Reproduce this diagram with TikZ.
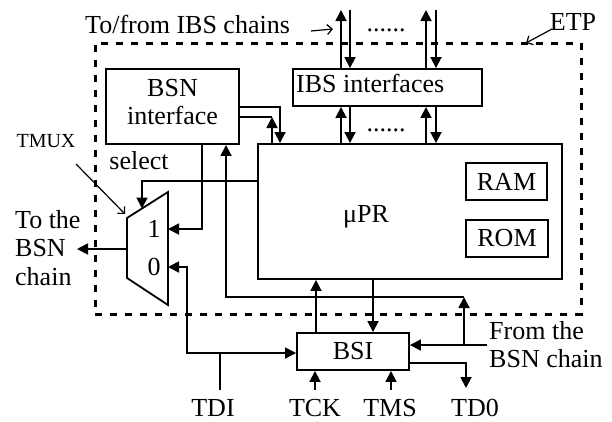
\documentclass[tikz,border=0pt]{standalone}
\usepackage{fontspec}
\setmainfont{Liberation Serif}
\usetikzlibrary{arrows.meta}
\begin{document}
\begin{tikzpicture}[x=1pt,y=-1pt,
  every node/.style={inner sep=0pt, font=\fontsize{26}{28}\selectfont},
  box/.style={draw, line width=1.9pt, rectangle},
  wire/.style={line width=1.8pt},
  arr/.style={wire, -{Triangle[length=11pt,width=11pt]}},
  openarr/.style={line width=1.2pt, -{Straight Barb[length=5pt,width=10pt]}},
  etpbox/.style={draw, line width=3pt, dash pattern=on 7pt off 8pt}]
\useasboundingbox (0,0) rectangle (612,421);

% ETP boundary
\node[etpbox, minimum width=486pt, minimum height=271pt] (etp) at (338,178.5) {};

% blocks
\node[box, minimum width=133pt, minimum height=75pt] (bsn) at (172.5,106.5) {};
\node[align=center] (bsntxt) at (172.5,102.5) {BSN\\interface};
\node[box, minimum width=189pt, minimum height=37pt] (ibs) at (387.5,87.5) {};
\node[anchor=base west] (ibstxt) at (296,92) {IBS interfaces};
\node[box, minimum width=304pt, minimum height=135pt] (upr) at (410,211.5) {};
\node[anchor=base] (uprtxt) at (366,222) {μPR};
\node[box, minimum width=81pt, minimum height=37pt] (ram) at (506.5,181.5) {RAM};
\node[box, minimum width=82pt, minimum height=37pt] (rom) at (507,238.5) {ROM};
\node[box, minimum width=112pt, minimum height=37pt] (bsi) at (353,351.5) {BSI};

% TMUX
\coordinate (m1) at (127,218);
\coordinate (m2) at (168,192);
\coordinate (m3) at (168,305);
\coordinate (m4) at (127,278);
\draw[wire, line join=miter] (m1) -- (m2) -- (m3) -- (m4) -- cycle;
\coordinate (min1) at (168,229);
\coordinate (min0) at (168,267);
\coordinate (mout) at (127,249);
\coordinate (msel) at (142,208.5);
\node (one) at (154,229) {1};
\node (zero) at (154,267) {0};

% labels
\node[anchor=base west] (tofrom) at (85,33) {To/from IBS chains};
\node[anchor=base] (etptxt) at (573,30) {ETP};
\node[anchor=base, font=\fontsize{20}{22}\selectfont] (tmux) at (46,147) {TMUX};
\node[anchor=base] (select) at (139,169) {select};
\node[align=left, anchor=west, font=\fontsize{26}{28.5}\selectfont] (tobsn) at (15,248) {To the\\BSN\\chain};
\node[align=left, anchor=west] (frombsn) at (489,345) {From the\\BSN chain};
\node[anchor=base] (tdi) at (213,416) {TDI};
\node[anchor=base] (tck) at (315,416) {TCK};
\node[anchor=base] (tms) at (390,416) {TMS};
\node[anchor=base] (tdo) at (475,416) {TD0};
\node[anchor=base] (dots1) at (386,31) {......};
\node[anchor=base] (dots2) at (386,131) {......};

% label pointers
\coordinate (tmuxs) at (76,164);
\coordinate (tmuxe) at (125,214);
\draw[openarr] (tmuxs) -- (tmuxe);
\coordinate (tfs) at (311,31);
\coordinate (tfe) at (333,29);
\draw[openarr] (tfs) -- (tfe);
\coordinate (etps) at (552,29);
\coordinate (etpe) at (526,43);
\draw[openarr] (etps) -- (etpe);

% IBS chain connections
\coordinate (t1) at (341,10);
\coordinate (t2) at (350,10);
\coordinate (t3) at (426,10);
\coordinate (t4) at (436,10);
\draw[arr] (ibs.north -| t1) -- (t1);
\draw[arr] (t2) -- (ibs.north -| t2);
\draw[arr] (ibs.north -| t3) -- (t3);
\draw[arr] (t4) -- (ibs.north -| t4);
\draw[arr] (upr.north -| t1) -- (ibs.south -| t1);
\draw[arr] (ibs.south -| t2) -- (upr.north -| t2);
\draw[arr] (upr.north -| t3) -- (ibs.south -| t3);
\draw[arr] (ibs.south -| t4) -- (upr.north -| t4);

% BSN interface <-> uPR
\coordinate (b1) at (280,107);
\coordinate (b2) at (272,117);
\draw[arr] (bsn.east |- b1) -| (upr.north -| b1);
\draw[arr] (upr.north -| b2) -- (b2);
\draw[wire] (b2) -- (bsn.east |- b2);

% BSN interface -> mux input 1
\coordinate (b3) at (202,229);
\draw[arr] (bsn.south -| b3) |- (min1);

% select
\coordinate (s1) at (142,181);
\draw[arr] (upr.west |- s1) -| (msel);

% mux output
\coordinate (outend) at (77,249);
\draw[arr] (mout) -- (outend);

% From the BSN chain
\coordinate (f0) at (487,345);
\coordinate (f1) at (464,345);
\coordinate (f2) at (464,297);
\coordinate (f3) at (226,297);
\draw[arr] (f0) -- (bsi.east |- f0);
\draw[arr] (f1) -- (f2);
\draw[arr] (f2) -| (bsn.south -| f3);

% uPR <-> BSI
\coordinate (u1) at (373,300);
\coordinate (u2) at (316,300);
\draw[arr] (upr.south -| u1) -- (bsi.north -| u1);
\draw[arr] (bsi.north -| u2) -- (upr.south -| u2);

% TDI
\coordinate (d0) at (220,390);
\coordinate (d1) at (220,353);
\coordinate (d2) at (187,267);
\draw[wire] (d0) -- (d1);
\draw[arr] (d1) -- (bsi.west |- d1);
\draw[arr] (d1) -| (d2) -- (min0);

% TCK, TMS
\coordinate (k0) at (315,390);
\coordinate (k1) at (391,390);
\draw[arr] (k0) -- (bsi.south -| k0);
\draw[arr] (k1) -- (bsi.south -| k1);

% TD0
\coordinate (o1) at (466,363);
\coordinate (o2) at (466,388);
\draw[arr] (bsi.east |- o1) -| (o2);
\end{tikzpicture}
\end{document}
